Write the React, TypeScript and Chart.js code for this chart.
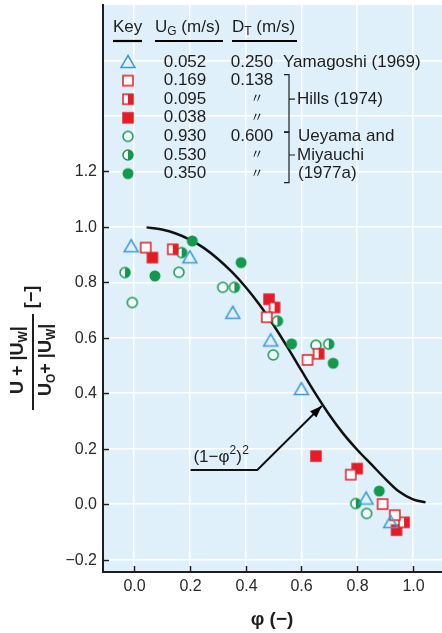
import React, { useEffect, useRef } from "react";
import { Chart, registerables } from "chart.js";

Chart.register(...registerables);

// ---------- data ----------
const X_TICKS = [0, 0.2, 0.4, 0.6, 0.8, 1.0];
const Y_TICKS = [-0.2, 0, 0.2, 0.4, 0.6, 0.8, 1.0, 1.2];
const Y_GRID_EXTRA = [1.4, 1.6];

// Yamagoshi (1969), UG 0.052, DT 0.250
const YAMAGOSHI_052 = [
  { x: -0.01, y: 0.93 }, { x: 0.2, y: 0.89 }, { x: 0.354, y: 0.69 },
  { x: 0.49, y: 0.59 }, { x: 0.6, y: 0.415 }, { x: 0.832, y: 0.02 },
  { x: 0.92, y: -0.065 },
];
// Hills (1974)
const HILLS_169 = [
  { x: 0.042, y: 0.925 }, { x: 0.476, y: 0.674 }, { x: 0.622, y: 0.52 },
  { x: 0.777, y: 0.106 }, { x: 0.891, y: 0.0 }, { x: 0.935, y: -0.04 },
];
const HILLS_095 = [
  { x: 0.139, y: 0.919 }, { x: 0.504, y: 0.709 }, { x: 0.662, y: 0.542 },
  { x: 0.968, y: -0.066 },
];
const HILLS_038 = [
  { x: 0.066, y: 0.889 }, { x: 0.484, y: 0.739 }, { x: 0.652, y: 0.173 },
  { x: 0.8, y: 0.128 }, { x: 0.941, y: -0.094 },
];
// Ueyama and Miyauchi (1977a)
const UEYAMA_930 = [
  { x: -0.006, y: 0.727 }, { x: 0.161, y: 0.836 }, { x: 0.318, y: 0.782 },
  { x: 0.499, y: 0.538 }, { x: 0.652, y: 0.573 }, { x: 0.834, y: -0.034 },
];
const UEYAMA_530 = [
  { x: -0.032, y: 0.835 }, { x: 0.171, y: 0.907 }, { x: 0.36, y: 0.782 },
  { x: 0.514, y: 0.66 }, { x: 0.698, y: 0.577 }, { x: 0.795, y: 0.002 },
];
const UEYAMA_350 = [
  { x: 0.075, y: 0.823 }, { x: 0.209, y: 0.949 }, { x: 0.384, y: 0.871 },
  { x: 0.565, y: 0.578 }, { x: 0.714, y: 0.508 }, { x: 0.879, y: 0.047 },
];

// (1-phi^2)^2 curve as drawn in the figure (read points)
const CURVE_PHI = [0.045, 0.1, 0.15, 0.2, 0.25, 0.3, 0.35, 0.4, 0.45, 0.5, 0.55,
  0.6, 0.65, 0.7, 0.75, 0.8, 0.85, 0.9, 0.95, 1.0, 1.045];
const CURVE_VAL = [0.998, 0.990, 0.976, 0.954, 0.924, 0.885, 0.838, 0.783, 0.719,
  0.646, 0.566, 0.482, 0.399, 0.322, 0.254, 0.196, 0.144, 0.092, 0.045, 0.017, 0.006];

// annotation arrow path (phi, value)
const ARROW_PATH = [
  { x: 0.203, y: 0.123 }, { x: 0.442, y: 0.123 }, { x: 0.673, y: 0.354 },
];
const CURVE_LABEL_POS = { x: 0.213, y: 0.153 };

// key table
const KEY_MARKERS = ["tri", "sqOpen", "sqHalf", "sqFull", "cOpen", "cHalf", "cFull"];
const KEY_UG = ["0.052", "0.169", "0.095", "0.038", "0.930", "0.530", "0.350"];
const KEY_DT = ["0.250", "0.138", "〃", "〃", "0.600", "〃", "〃"];

// ---------- styles ----------
const BLUE = "#3b9bd6";
const RED = "#e51c24";
const GREEN = "#13994b";
const BG = "#dff0fb";
const INK = "#1e1e1e";
const FONT = '"Liberation Sans", Arial, Helvetica, sans-serif';

const fmt = (v: number) => v.toFixed(1).replace("-", "−");

function makeMarker(kind: string): HTMLCanvasElement {
  const c = document.createElement("canvas");
  const S = 18;
  c.width = S;
  c.height = S;
  const g = c.getContext("2d")!;
  const m = S / 2;
  g.lineWidth = 1.5;
  if (kind === "tri") {
    g.beginPath();
    g.moveTo(m, m - 6.5);
    g.lineTo(m + 7, m + 5.5);
    g.lineTo(m - 7, m + 5.5);
    g.closePath();
    g.strokeStyle = BLUE;
    g.stroke();
  } else if (kind === "sqOpen") {
    g.fillStyle = "#fff";
    g.fillRect(m - 5, m - 5, 10, 10);
    g.strokeStyle = RED;
    g.strokeRect(m - 5, m - 5, 10, 10);
  } else if (kind === "sqHalf") {
    g.fillStyle = "#fff";
    g.fillRect(m - 5, m - 5, 10, 10);
    g.fillStyle = RED;
    g.fillRect(m, m - 5, 5, 10);
    g.strokeStyle = RED;
    g.strokeRect(m - 5, m - 5, 10, 10);
  } else if (kind === "sqFull") {
    g.fillStyle = RED;
    g.fillRect(m - 5.75, m - 5.75, 11.5, 11.5);
  } else if (kind === "cOpen") {
    g.beginPath();
    g.arc(m, m, 5, 0, Math.PI * 2);
    g.fillStyle = "rgba(255,255,255,0.6)";
    g.fill();
    g.strokeStyle = GREEN;
    g.stroke();
  } else if (kind === "cHalf") {
    g.beginPath();
    g.arc(m, m, 5, 0, Math.PI * 2);
    g.fillStyle = "#fff";
    g.fill();
    g.beginPath();
    g.arc(m, m, 5, -Math.PI / 2, Math.PI / 2);
    g.closePath();
    g.fillStyle = GREEN;
    g.fill();
    g.beginPath();
    g.arc(m, m, 5, 0, Math.PI * 2);
    g.strokeStyle = GREEN;
    g.stroke();
  } else {
    g.beginPath();
    g.arc(m, m, 5.5, 0, Math.PI * 2);
    g.fillStyle = GREEN;
    g.fill();
  }
  return c;
}

function drawSubText(ctx: CanvasRenderingContext2D, x: number, y: number, main: string, sub: string, rest: string, size: number, weight = "") {
  ctx.font = `${weight} ${size}px ${FONT}`;
  ctx.fillText(main, x, y);
  let cx = x + ctx.measureText(main).width;
  ctx.font = `${weight} ${Math.round(size * 0.68)}px ${FONT}`;
  ctx.fillText(sub, cx, y + size * 0.3);
  cx += ctx.measureText(sub).width;
  ctx.font = `${weight} ${size}px ${FONT}`;
  ctx.fillText(rest, cx, y);
  return cx + ctx.measureText(rest).width;
}

export default function App() {
  const ref = useRef<HTMLCanvasElement | null>(null);

  useEffect(() => {
    document.body.style.margin = "0";
    document.body.style.background = "#fff";
    const canvas = ref.current!;
    const markers: Record<string, HTMLCanvasElement> = {};
    KEY_MARKERS.forEach((k) => (markers[k] = makeMarker(k)));

    const pts = (data: { x: number; y: number }[], kind: string, label: string) => ({
      type: "scatter" as const,
      label,
      data,
      pointStyle: markers[kind],
      pointRadius: 6,
      order: 1,
    });

    const overlay = {
      id: "overlay",
      beforeDraw(chart: any) {
        const { ctx, chartArea: a } = chart;
        ctx.save();
        ctx.fillStyle = BG;
        ctx.fillRect(a.left, a.top, a.right - a.left, a.bottom - a.top);
        ctx.restore();
      },
      afterDraw(chart: any) {
        const { ctx, chartArea: a } = chart;
        const xs = chart.scales.x;
        const ys = chart.scales.y;
        ctx.save();
        // inward tick marks + tick labels
        ctx.strokeStyle = INK;
        ctx.lineWidth = 1.5;
        ctx.fillStyle = "#2a2a2a";
        ctx.font = `16px ${FONT}`;
        X_TICKS.forEach((v) => {
          const px = Math.round(xs.getPixelForValue(v)) + 0.5;
          ctx.beginPath();
          ctx.moveTo(px, a.bottom);
          ctx.lineTo(px, a.bottom - 6);
          ctx.stroke();
          ctx.textAlign = "center";
          ctx.textBaseline = "middle";
          ctx.fillText(fmt(v), px, a.bottom + 15);
        });
        Y_TICKS.forEach((v) => {
          const py = Math.round(ys.getPixelForValue(v)) + 0.5;
          ctx.beginPath();
          ctx.moveTo(a.left, py);
          ctx.lineTo(a.left + 6, py);
          ctx.stroke();
          ctx.textAlign = "right";
          ctx.textBaseline = "middle";
          ctx.fillText(fmt(v), a.left - 6, py);
        });

        // arrowhead
        const p1 = ARROW_PATH[ARROW_PATH.length - 2];
        const p2 = ARROW_PATH[ARROW_PATH.length - 1];
        const x1 = xs.getPixelForValue(p1.x), y1 = ys.getPixelForValue(p1.y);
        const x2 = xs.getPixelForValue(p2.x), y2 = ys.getPixelForValue(p2.y);
        const ang = Math.atan2(y2 - y1, x2 - x1);
        const L = 12, W = 4.5;
        ctx.fillStyle = "#000";
        ctx.beginPath();
        ctx.moveTo(x2, y2);
        ctx.lineTo(x2 - L * Math.cos(ang) + W * Math.sin(ang), y2 - L * Math.sin(ang) - W * Math.cos(ang));
        ctx.lineTo(x2 - L * Math.cos(ang) - W * Math.sin(ang), y2 - L * Math.sin(ang) + W * Math.cos(ang));
        ctx.closePath();
        ctx.fill();

        // curve label (1−φ²)²
        ctx.fillStyle = INK;
        ctx.textBaseline = "alphabetic";
        ctx.textAlign = "left";
        let lx = xs.getPixelForValue(CURVE_LABEL_POS.x);
        const ly = ys.getPixelForValue(CURVE_LABEL_POS.y);
        ctx.font = `17px ${FONT}`;
        ctx.fillText("(1−φ", lx, ly);
        lx += ctx.measureText("(1−φ").width;
        ctx.font = `12px ${FONT}`;
        ctx.fillText("2", lx, ly - 8);
        lx += ctx.measureText("2").width;
        ctx.font = `17px ${FONT}`;
        ctx.fillText(")", lx, ly);
        lx += ctx.measureText(")").width;
        ctx.font = `12px ${FONT}`;
        ctx.fillText("2", lx + 0.5, ly - 8);

        // key table
        ctx.textBaseline = "middle";
        ctx.fillStyle = INK;
        ctx.font = `17px ${FONT}`;
        ctx.fillText("Key", 113, 27);
        drawSubText(ctx, 155, 27, "U", "G", " (m/s)", 17);
        drawSubText(ctx, 232, 27, "D", "T", " (m/s)", 17);
        ctx.strokeStyle = "#000";
        ctx.lineWidth = 2.2;
        [[113, 142], [155, 223], [232, 297]].forEach(([s, e]) => {
          ctx.beginPath();
          ctx.moveTo(s, 41);
          ctx.lineTo(e, 41);
          ctx.stroke();
        });
        const rowY = (i: number) => 62 + 18.6 * i;
        KEY_MARKERS.forEach((k, i) => {
          const mk = markers[k];
          ctx.drawImage(mk, 128 - mk.width / 2, rowY(i) - mk.height / 2);
        });
        ctx.font = `17px ${FONT}`;
        ctx.textAlign = "center";
        KEY_UG.forEach((v, i) => ctx.fillText(v, 185, rowY(i)));
        KEY_DT.forEach((v, i) => {
          if (v === "〃") {
            ctx.font = `13px "Noto Sans CJK JP", ${FONT}`;
            ctx.fillText(v, 257, rowY(i) - 2);
            ctx.font = `17px ${FONT}`;
          } else {
            ctx.fillText(v, 252, rowY(i));
          }
        });
        ctx.textAlign = "left";
        ctx.fillText("Yamagoshi (1969)", 283, rowY(0));
        // brackets
        ctx.lineWidth = 1.2;
        ctx.strokeStyle = INK;
        const bracket = (top: number, bot: number, mid: number) => {
          ctx.beginPath();
          ctx.moveTo(284, top);
          ctx.lineTo(289, top);
          ctx.lineTo(289, bot);
          ctx.lineTo(284, bot);
          ctx.moveTo(289, mid);
          ctx.lineTo(295, mid);
          ctx.stroke();
        };
        bracket(rowY(1) - 6, rowY(3) + 14, rowY(2));
        bracket(rowY(4) - 4, rowY(6) + 9, rowY(5));
        ctx.fillText("Hills (1974)", 297, rowY(2));
        ctx.fillText("Ueyama and", 298, rowY(4));
        ctx.fillText("Miyauchi", 297, rowY(5));
        ctx.fillText("(1977a)", 298, rowY(6));

        // x axis title
        ctx.textAlign = "center";
        ctx.textBaseline = "middle";
        ctx.font = `bold 19px ${FONT}`;
        ctx.fillText("φ (−)", 272, 620);

        // y axis title (rotated fraction)
        ctx.save();
        ctx.translate(33, 362);
        ctx.rotate(-Math.PI / 2);
        ctx.textAlign = "left";
        ctx.textBaseline = "middle";
        ctx.fillStyle = INK;
        drawSubText(ctx, -32, -15, "U + |U", "W", "|", 18, "bold");
        const endDen = drawSubText(ctx, -34, 13, "U", "O", "+ |U", 18, "bold");
        drawSubText(ctx, endDen, 13, "", "W", "|", 18, "bold");
        ctx.strokeStyle = INK;
        ctx.lineWidth = 2;
        ctx.beginPath();
        ctx.moveTo(-48, 0);
        ctx.lineTo(48, 0);
        ctx.stroke();
        ctx.textAlign = "center";
        ctx.font = `bold 18px ${FONT}`;
        ctx.fillText("[−]", 65, -1);
        ctx.restore();

        ctx.restore();
      },
    };

    const chart = new Chart(canvas, {
      type: "scatter",
      data: {
        datasets: [
          {
            type: "line" as const,
            label: "(1-φ²)²",
            data: CURVE_PHI.map((x, i) => ({ x, y: CURVE_VAL[i] })),
            borderColor: "#111",
            borderWidth: 2.5,
            pointRadius: 0,
            cubicInterpolationMode: "monotone",
            fill: false,
            order: 3,
          },
          {
            type: "line" as const,
            label: "arrow",
            data: ARROW_PATH,
            borderColor: "#111",
            borderWidth: 2,
            pointRadius: 0,
            tension: 0,
            fill: false,
            order: 3,
          },
          pts(YAMAGOSHI_052, "tri", "0.052"),
          pts(HILLS_169, "sqOpen", "0.169"),
          pts(HILLS_095, "sqHalf", "0.095"),
          pts(HILLS_038, "sqFull", "0.038"),
          pts(UEYAMA_930, "cOpen", "0.930"),
          pts(UEYAMA_530, "cHalf", "0.530"),
          pts(UEYAMA_350, "cFull", "0.350"),
        ] as any,
      },
      options: {
        animation: false,
        responsive: false,
        maintainAspectRatio: false,
        devicePixelRatio: 1,
        layout: { autoPadding: false, padding: { top: 5, right: 0, left: 0, bottom: 0 } },
        plugins: {
          legend: { display: false },
          tooltip: { enabled: false },
        },
        scales: {
          x: {
            type: "linear",
            min: -0.111,
            max: 1.104,
            afterBuildTicks: (s: any) => {
              s.ticks = X_TICKS.map((value) => ({ value }));
            },
            afterFit: (s: any) => {
              s.height = 61;
            },
            ticks: { display: false },
            grid: { color: "#ffffff", lineWidth: 1.5, drawTicks: false },
            border: { display: true, color: INK, width: 2 },
          },
          y: {
            type: "linear",
            min: -0.245,
            max: 1.8,
            afterBuildTicks: (s: any) => {
              s.ticks = [...Y_TICKS, ...Y_GRID_EXTRA].map((value) => ({ value }));
            },
            afterFit: (s: any) => {
              s.width = 103;
            },
            ticks: { display: false },
            grid: { color: "#ffffff", lineWidth: 1.5, drawTicks: false },
            border: { display: true, color: INK, width: 2 },
          },
        },
      },
      plugins: [overlay],
    } as any);

    return () => chart.destroy();
  }, []);

  return <canvas ref={ref} width={442} height={633} style={{ display: "block", width: 442, height: 633 }} />;
}
